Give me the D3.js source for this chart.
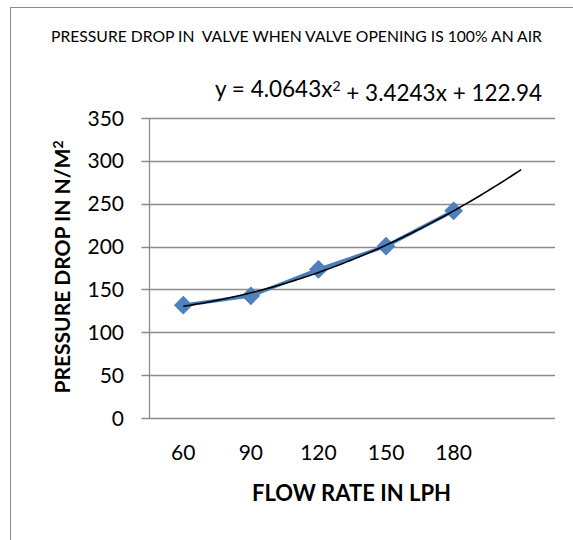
<!DOCTYPE html>
<html>
<head>
<meta charset="utf-8">
<script src="https://cdn.jsdelivr.net/npm/d3@7"></script>
<style>
	body { margin: 0; background: #fff; }
	svg text { font-family: Lato, "Open Sans", sans-serif; fill: #000; }
</style>
</head>
<body>
<svg id="chart" width="573" height="540"></svg>
<script>
// valeurs
var flowRates = [60, 90, 120, 150, 180];
var pressureDrop = [131.6, 142.5, 173.3, 200.5, 241.7];
var yTicks = [0, 50, 100, 150, 200, 250, 300, 350];
// coefficients de la courbe de tendance (a, b, c) : y = a x² + b x + c
var trendCoef = [4.0643, 3.4243, 122.94];
var forwardPeriods = 1;

var svg = d3.select("#chart");

// cadre du graphique
svg.append("rect")
	.attr("x", 10.5).attr("y", 7.5)
	.attr("width", 700).attr("height", 700)
	.attr("fill", "none").attr("stroke", "#8c8c8c").attr("stroke-width", 1);

var plot = {left: 149.5, right: 555, top: 118, bottom: 418};
var nCat = flowRates.length + forwardPeriods;

var x = d3.scaleLinear().domain([0.5, nCat + 0.5]).range([plot.left, plot.right]);
var y = d3.scaleLinear().domain([0, 350]).range([plot.bottom, plot.top]);

// grille horizontale
svg.append("g").selectAll("line")
	.data(yTicks)
	.enter().append("line")
	.attr("x1", plot.left - 8).attr("x2", plot.right)
	.attr("y1", function(d) { return Math.round(y(d)) + 0.5; })
	.attr("y2", function(d) { return Math.round(y(d)) + 0.5; })
	.attr("stroke", "#8c8c8c").attr("stroke-width", 1.3);

// axe vertical
svg.append("line")
	.attr("x1", plot.left).attr("x2", plot.left)
	.attr("y1", plot.top).attr("y2", Math.round(plot.bottom) + 0.5)
	.attr("stroke", "#8c8c8c").attr("stroke-width", 1.3);

// étiquettes Y
svg.append("g").selectAll("text")
	.data(yTicks)
	.enter().append("text")
	.attr("x", 124)
	.attr("y", function(d) { return y(d); })
	.attr("dy", "0.36em")
	.attr("text-anchor", "end")
	.style("font-size", "21px")
	.text(function(d) { return d; });

// étiquettes X
svg.append("g").selectAll("text")
	.data(flowRates)
	.enter().append("text")
	.attr("x", function(d, i) { return x(i + 1); })
	.attr("y", 452)
	.attr("dy", "0.36em")
	.attr("text-anchor", "middle")
	.style("font-size", "21px")
	.text(function(d) { return d; });

// série
var line = d3.line()
	.x(function(d, i) { return x(i + 1); })
	.y(function(d) { return y(d); });

svg.append("path")
	.datum(pressureDrop)
	.attr("d", line)
	.attr("fill", "none")
	.attr("stroke", "#4a7ebb")
	.attr("stroke-width", 3.5)
	.attr("stroke-linejoin", "round");

svg.append("g").selectAll("path")
	.data(pressureDrop)
	.enter().append("path")
	.attr("d", d3.symbol().type(d3.symbolSquare).size(150))
	.attr("transform", function(d, i) { return "translate(" + x(i + 1) + "," + y(d) + ") rotate(45)"; })
	.attr("fill", "#4f81bd")
	.attr("stroke", "#4a7ebb").attr("stroke-width", 1);

// courbe de tendance polynomiale
var trend = d3.range(1, nCat + 0.001, 0.05).map(function(t) {
	return [t, trendCoef[0] * t * t + trendCoef[1] * t + trendCoef[2]];
});
svg.append("path")
	.datum(trend)
	.attr("d", d3.line().x(function(d) { return x(d[0]); }).y(function(d) { return y(d[1]); }))
	.attr("fill", "none")
	.attr("stroke", "#000")
	.attr("stroke-width", 1.6);

// titre
svg.append("text")
	.attr("x", 296.5).attr("y", 36)
	.attr("dy", "0.36em")
	.attr("text-anchor", "middle")
	.style("font-size", "15.7px")
	.style("white-space", "pre")
	.text("PRESSURE DROP IN  VALVE WHEN VALVE OPENING IS 100% AN AIR");

// équation
var eq = svg.append("text")
	.attr("x", 542).attr("y", 89)
	.attr("dy", "0.36em")
	.attr("text-anchor", "end")
	.style("font-size", "22.5px");
eq.append("tspan").text("y = " + trendCoef[0] + "x");
eq.append("tspan").attr("dy", "-0.45em").style("font-size", "14px").text("2");
eq.append("tspan").attr("dy", "0.45em").text(" + " + trendCoef[1] + "x + " + trendCoef[2]);

// titres des axes
svg.append("text")
	.attr("x", 351.5).attr("y", 493)
	.attr("dy", "0.36em")
	.attr("text-anchor", "middle")
	.style("font-size", "22px")
	.style("font-weight", "bold")
	.text("FLOW RATE IN LPH");

var yTitle = svg.append("text")
	.attr("transform", "translate(62,267) rotate(-90)")
	.attr("dy", "0.36em")
	.attr("text-anchor", "middle")
	.style("font-size", "21px")
	.style("font-weight", "bold");
yTitle.append("tspan").text("PRESSURE DROP IN N/M");
yTitle.append("tspan").attr("dy", "-0.45em").style("font-size", "14px").text("2");
</script>
</body>
</html>
